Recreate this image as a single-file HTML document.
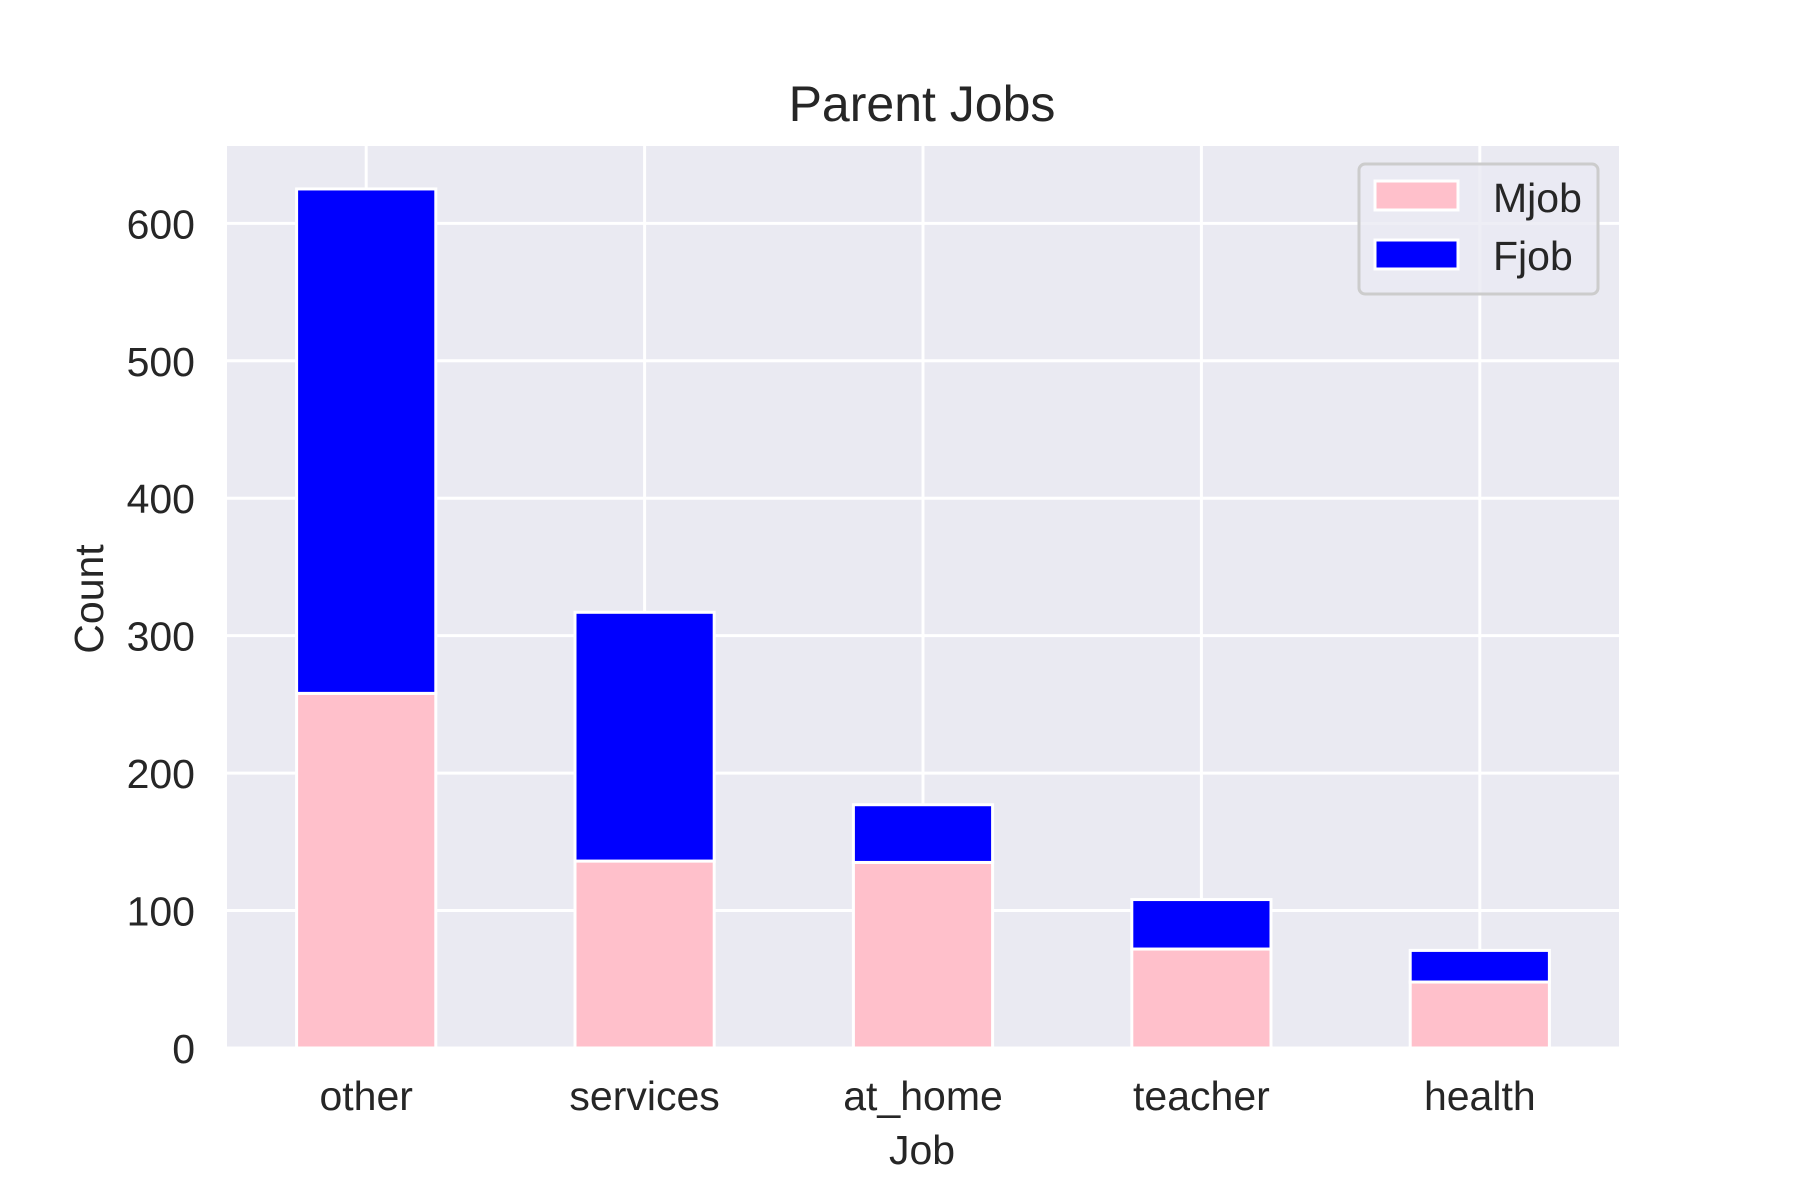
<!DOCTYPE html>
<html><head><meta charset="utf-8"><style>
body{margin:0;background:#fff;}
svg{display:block;font-family:"Liberation Sans","DejaVu Sans",sans-serif;}
</style></head><body>
<svg id="chart" width="1800" height="1200" viewBox="0 0 1800 1200">
<rect x="0" y="0" width="1800" height="1200" fill="#fff"/>
<rect x="227" y="146" width="1392" height="902" fill="#eaeaf2"/>
<g id="grid"></g>
<g id="bars"></g>
<g id="ticks"></g>
<text x="922" y="121" font-size="50" text-anchor="middle" fill="#262626">Parent Jobs</text>
<text x="922" y="1164" font-size="41" text-anchor="middle" fill="#262626">Job</text>
<text transform="translate(103,599) rotate(-90)" font-size="41" text-anchor="middle" fill="#262626">Count</text>
<g>
<rect x="1359" y="164" width="239" height="130" rx="6" fill="#eaeaf2" fill-opacity="0.8" stroke="#cccccc" stroke-width="3"/>
<g>
<rect x="1375" y="181" width="83" height="29" fill="pink" stroke="#fff" stroke-width="3"/>
<text x="1493" y="212" font-size="41" fill="#262626">Mjob</text></g>
<g>
<rect x="1375" y="240" width="83" height="29" fill="blue" stroke="#fff" stroke-width="3"/>
<text x="1493" y="270" font-size="41" fill="#262626">Fjob</text></g>
</g>
</svg>
<script>
const categories = ["other","services","at_home","teacher","health"];
const mjob = [258,136,135,72,48];
const fjob = [367,181,42,36,23];
const yTicks = [0,100,200,300,400,500,600];

const NS="http://www.w3.org/2000/svg";
const L=227,R=1619,T=146,B=1048;
const yMax=Math.max(...mjob.map((m,i)=>m+fjob[i]))*1.05;
const y=v=>B-(v/yMax)*(B-T);
const unit=(R-L)/categories.length;
const x=i=>L+(i+0.5)*unit;
const bw=0.5*unit;
function mk(tag,attrs,parent){const e=document.createElementNS(NS,tag);for(const k in attrs)e.setAttribute(k,attrs[k]);parent.appendChild(e);return e;}
const grid=document.getElementById('grid'),bars=document.getElementById('bars'),ticks=document.getElementById('ticks');
yTicks.forEach(t=>{
  const ln=mk('line',{x1:L,x2:R,y1:y(t),y2:y(t),stroke:'#fff','stroke-width':3},grid);
  
  
  const tx=mk('text',{x:195,y:y(t)+15,'font-size':41,'text-anchor':'end',fill:'#262626'},ticks);
  tx.textContent=t;
  
  
});
categories.forEach((c,i)=>{
  const ln=mk('line',{x1:x(i),x2:x(i),y1:T,y2:B,stroke:'#fff','stroke-width':3},grid);
  
  
  const tx=mk('text',{x:x(i),y:1110,'font-size':41,'text-anchor':'middle',fill:'#262626'},ticks);
  tx.textContent=c;
  
  
  const r1=mk('rect',{x:x(i)-bw/2,y:y(mjob[i]),width:bw,height:y(0)-y(mjob[i]),fill:'pink',stroke:'#fff','stroke-width':3},bars);
  
  
  const r2=mk('rect',{x:x(i)-bw/2,y:y(mjob[i]+fjob[i]),width:bw,height:y(mjob[i])-y(mjob[i]+fjob[i]),fill:'blue',stroke:'#fff','stroke-width':3},bars);
  
  
});
</script>
</body></html>
